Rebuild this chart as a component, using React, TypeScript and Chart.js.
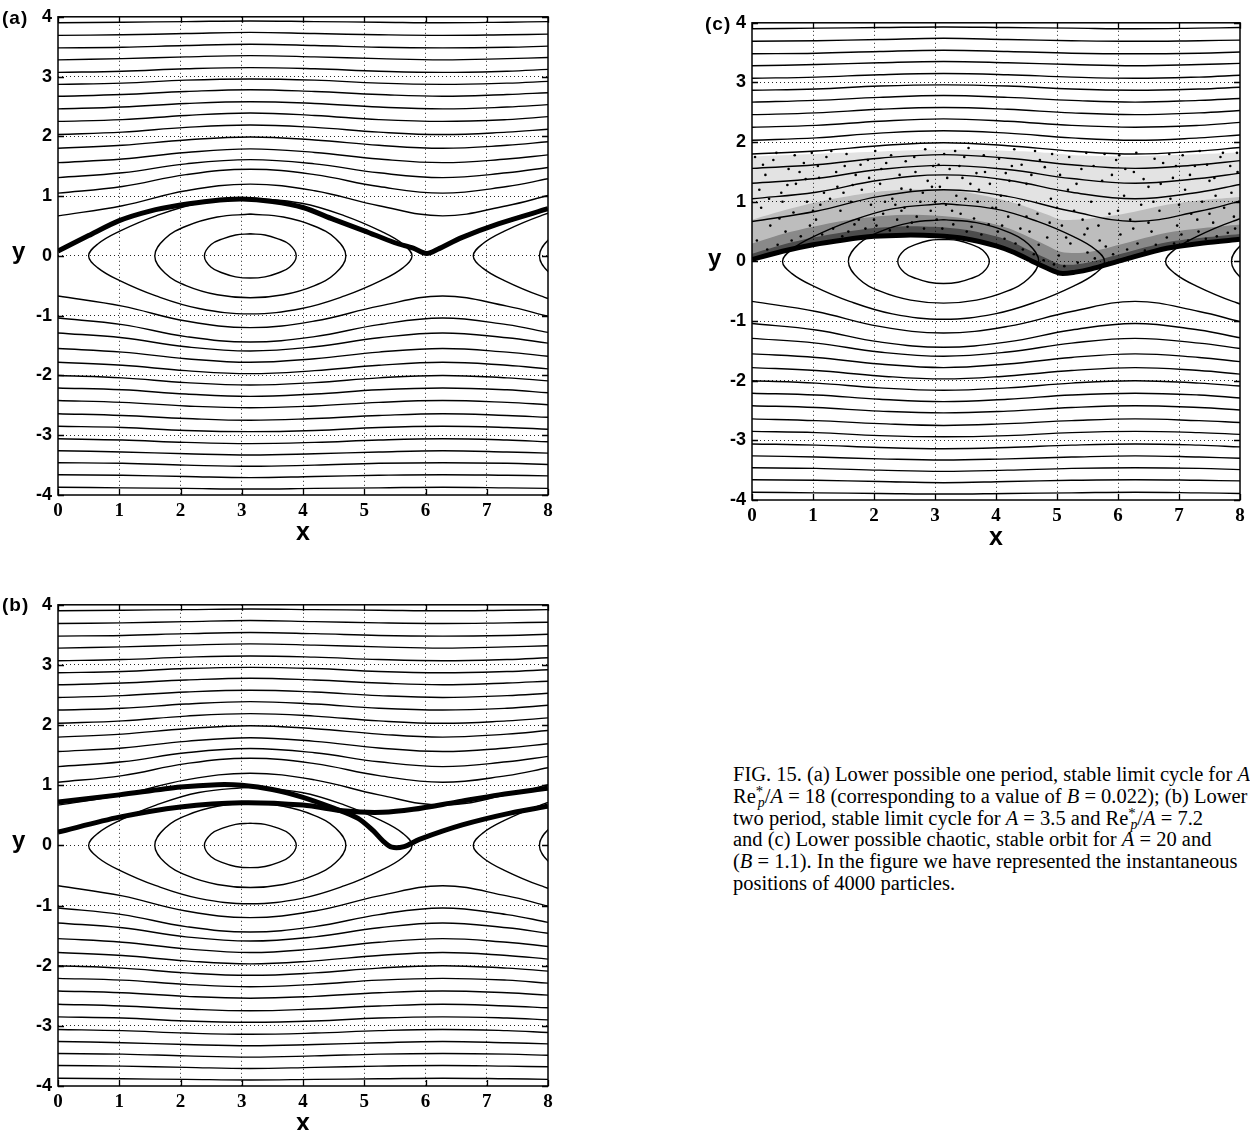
import React, { useEffect, useRef } from "react";
import { Chart, registerables } from "chart.js";

Chart.register(...registerables);

// ---------------- data ----------------
const X_TICKS = [0, 1, 2, 3, 4, 5, 6, 7, 8];
const Y_TICKS = [-4, -3, -2, -1, 0, 1, 2, 3, 4];

// sample abscissae shared by the open streamlines
const STREAM_X = [0, 1.05, 2.09, 3.14, 4.19, 5.24, 6.28, 7.33, 8];

const STREAMS_UPPER = [
  [0.67, 0.84, 1.09, 1.2, 1.09, 0.84, 0.67, 0.84, 1.01],
  [1.05, 1.16, 1.36, 1.45, 1.36, 1.16, 1.05, 1.16, 1.29],
  [1.31, 1.39, 1.54, 1.61, 1.54, 1.39, 1.31, 1.39, 1.48],
  [1.56, 1.62, 1.73, 1.79, 1.73, 1.62, 1.56, 1.62, 1.69],
  [1.8, 1.85, 1.94, 1.99, 1.94, 1.85, 1.8, 1.85, 1.91],
  [2.03, 2.07, 2.15, 2.19, 2.15, 2.07, 2.03, 2.07, 2.12],
  [2.25, 2.28, 2.35, 2.39, 2.35, 2.28, 2.25, 2.28, 2.33],
  [2.46, 2.49, 2.55, 2.58, 2.55, 2.49, 2.46, 2.49, 2.53],
  [2.67, 2.7, 2.75, 2.78, 2.75, 2.7, 2.67, 2.7, 2.73],
  [2.87, 2.89, 2.94, 2.96, 2.94, 2.89, 2.87, 2.89, 2.92],
  [3.07, 3.09, 3.13, 3.15, 3.13, 3.09, 3.07, 3.09, 3.12],
  [3.28, 3.3, 3.33, 3.35, 3.33, 3.3, 3.28, 3.3, 3.32],
  [3.48, 3.49, 3.52, 3.54, 3.52, 3.49, 3.48, 3.49, 3.51],
  [3.69, 3.7, 3.72, 3.74, 3.72, 3.7, 3.69, 3.7, 3.71],
  [3.9, 3.91, 3.92, 3.93, 3.92, 3.91, 3.9, 3.91, 3.92],
];

const STREAMS_LOWER = [
  [-0.67, -0.84, -1.09, -1.2, -1.09, -0.84, -0.67, -0.84, -1.01],
  [-1.04, -1.15, -1.35, -1.44, -1.35, -1.15, -1.04, -1.15, -1.28],
  [-1.29, -1.37, -1.52, -1.59, -1.52, -1.37, -1.29, -1.37, -1.46],
  [-1.55, -1.61, -1.72, -1.78, -1.72, -1.61, -1.55, -1.61, -1.68],
  [-1.78, -1.83, -1.92, -1.97, -1.92, -1.83, -1.78, -1.83, -1.89],
  [-2.0, -2.04, -2.12, -2.16, -2.12, -2.04, -2.0, -2.04, -2.09],
  [-2.21, -2.24, -2.31, -2.35, -2.31, -2.24, -2.21, -2.24, -2.29],
  [-2.42, -2.45, -2.51, -2.54, -2.51, -2.45, -2.42, -2.45, -2.49],
  [-2.64, -2.67, -2.72, -2.75, -2.72, -2.67, -2.64, -2.67, -2.7],
  [-2.85, -2.87, -2.92, -2.94, -2.92, -2.87, -2.85, -2.87, -2.9],
  [-3.06, -3.08, -3.12, -3.14, -3.12, -3.08, -3.06, -3.08, -3.11],
  [-3.26, -3.28, -3.31, -3.33, -3.31, -3.28, -3.26, -3.28, -3.3],
  [-3.46, -3.47, -3.5, -3.52, -3.5, -3.47, -3.46, -3.47, -3.49],
  [-3.66, -3.67, -3.69, -3.71, -3.69, -3.67, -3.66, -3.67, -3.68],
  [-3.87, -3.88, -3.89, -3.9, -3.89, -3.88, -3.87, -3.88, -3.89],
];

// closed "cat's eye" streamlines around (pi, 0)
const EYE_INNER_X = [3.14, 3.38, 3.58, 3.78, 3.89, 3.78, 3.58, 3.38, 3.14, 2.9, 2.7, 2.5, 2.39, 2.5, 2.7, 2.9, 3.14];
const EYE_INNER_Y = [0.37, 0.35, 0.29, 0.19, 0, -0.19, -0.29, -0.35, -0.37, -0.35, -0.29, -0.19, 0, 0.19, 0.29, 0.35, 0.37];
const EYE_MIDDLE_X = [3.14, 3.68, 4.18, 4.53, 4.7, 4.53, 4.18, 3.68, 3.14, 2.6, 2.1, 1.75, 1.58, 1.75, 2.1, 2.6, 3.14];
const EYE_MIDDLE_Y = [0.7, 0.65, 0.5, 0.29, 0, -0.29, -0.5, -0.65, -0.7, -0.65, -0.5, -0.29, 0, 0.29, 0.5, 0.65, 0.7];
const EYE_OUTER_X = [3.14, 3.98, 4.68, 5.28, 5.63, 5.78, 5.63, 5.28, 4.68, 3.98, 3.14, 2.3, 1.6, 1.0, 0.65, 0.5, 0.65, 1.0, 1.6, 2.3, 3.14];
const EYE_OUTER_Y = [0.97, 0.88, 0.67, 0.41, 0.2, 0, -0.2, -0.41, -0.67, -0.88, -0.97, -0.88, -0.67, -0.41, -0.2, 0, 0.2, 0.41, 0.67, 0.88, 0.97];
// eyes of the next cell, cut by the right edge
const NEXT_OUTER_X = [9.42, 8.58, 7.88, 7.28, 6.93, 6.78, 6.93, 7.28, 7.88, 8.58, 9.42];
const NEXT_OUTER_Y = [0.97, 0.88, 0.67, 0.41, 0.2, 0, -0.2, -0.41, -0.67, -0.88, -0.97];
const NEXT_MIDDLE_X = [9.42, 8.88, 8.38, 8.03, 7.86, 8.03, 8.38, 8.88, 9.42];
const NEXT_MIDDLE_Y = [0.7, 0.65, 0.5, 0.29, 0, -0.29, -0.5, -0.65, -0.7];

// (a) one-period limit cycle
const ORBIT_A_X = [0, 0.5, 1.0, 1.5, 2.0, 2.5, 3.0, 3.5, 4.0, 4.5, 5.0, 5.5, 5.8, 6.02, 6.2, 6.6, 7.2, 8.0];
const ORBIT_A_Y = [0.08, 0.34, 0.59, 0.75, 0.85, 0.92, 0.95, 0.91, 0.81, 0.61, 0.42, 0.22, 0.13, 0.04, 0.11, 0.31, 0.54, 0.79];

// (b) two-period limit cycle (two branches)
const ORBIT_B1_X = [0, 1, 2, 2.6, 3.0, 3.5, 4.0, 4.5, 4.9, 5.15, 5.3, 5.45, 5.65, 5.9, 6.6, 7.4, 8.0];
const ORBIT_B1_Y = [0.72, 0.84, 0.97, 1.01, 1.0, 0.93, 0.8, 0.62, 0.45, 0.24, 0.08, -0.03, -0.02, 0.1, 0.34, 0.54, 0.65];
const ORBIT_B2_X = [0, 1, 2, 3, 4, 4.7, 5.3, 5.8, 6.5, 7.2, 8];
const ORBIT_B2_Y = [0.22, 0.47, 0.64, 0.71, 0.67, 0.57, 0.55, 0.6, 0.72, 0.84, 0.95];

// (c) particle cloud: lower edge and successive density layers up to the top of the cloud
const CLOUD_X = [0, 0.5, 1, 1.5, 2, 2.5, 3, 3.5, 4, 4.3, 4.6, 4.85, 5.06, 5.3, 5.55, 6.1, 6.8, 7.4, 8];
const CLOUD_EDGE = [0.03, 0.17, 0.28, 0.36, 0.42, 0.44, 0.43, 0.38, 0.26, 0.15, 0.0, -0.12, -0.2, -0.18, -0.13, 0.03, 0.22, 0.31, 0.37];
const CLOUD_CORE = [0.13, 0.28, 0.4, 0.49, 0.56, 0.59, 0.58, 0.53, 0.42, 0.31, 0.16, 0.04, -0.05, -0.05, -0.01, 0.14, 0.32, 0.4, 0.46];
const CLOUD_DENSE = [0.3, 0.46, 0.58, 0.68, 0.75, 0.78, 0.77, 0.72, 0.62, 0.52, 0.38, 0.26, 0.16, 0.14, 0.16, 0.3, 0.48, 0.56, 0.62];
const CLOUD_MID = [0.7, 0.85, 0.98, 1.08, 1.16, 1.2, 1.2, 1.16, 1.06, 0.98, 0.88, 0.78, 0.7, 0.7, 0.72, 0.8, 0.95, 1.03, 1.08];
const CLOUD_TOP = [1.76, 1.78, 1.8, 1.82, 1.84, 1.86, 1.87, 1.87, 1.86, 1.85, 1.84, 1.82, 1.8, 1.78, 1.77, 1.76, 1.78, 1.8, 1.83];

// individual particles (a sample of the 4000 shown)
const PARTICLES: number[][] = [
  [0.08, 0.35], [0.15, 0.9], [0.22, 1.45], [0.3, 0.6], [0.35, 1.7], [0.42, 0.28], [0.48, 1.15], [0.55, 0.5], [0.6, 1.55], [0.68, 0.82],
  [0.72, 1.3], [0.8, 0.42], [0.85, 1.65], [0.9, 1.0], [0.95, 0.6], [0.12, 1.2], [0.5, 1.0], [0.78, 1.5], [0.25, 0.2], [0.65, 0.35],
  [1.05, 0.7], [1.1, 1.4], [1.15, 0.45], [1.22, 1.75], [1.28, 1.05], [1.33, 0.55], [1.4, 1.25], [1.45, 0.85], [1.52, 1.6], [1.58, 0.5],
  [1.62, 1.0], [1.7, 1.45], [1.75, 0.7], [1.8, 1.2], [1.86, 0.55], [1.9, 1.7], [1.95, 0.95], [1.12, 0.95], [1.48, 0.42], [1.68, 0.62],
  [2.04, 0.6], [2.1, 1.3], [2.15, 0.8], [2.2, 1.65], [2.26, 0.52], [2.3, 1.05], [2.38, 0.7], [2.42, 1.45], [2.5, 0.9], [2.55, 0.58],
  [2.6, 1.2], [2.66, 1.75], [2.7, 0.75], [2.76, 1.0], [2.82, 0.55], [2.88, 1.35], [2.93, 0.85], [2.97, 1.6], [2.35, 0.95], [2.62, 0.65],
  [2.8, 1.15], [2.18, 1.0], [3.03, 0.7], [3.08, 1.25], [3.12, 0.55], [3.18, 0.95], [3.24, 1.55], [3.3, 0.62], [3.35, 1.1], [3.42, 0.8],
  [3.48, 1.75], [3.52, 0.5], [3.58, 1.3], [3.64, 0.72], [3.7, 1.0], [3.76, 0.45], [3.82, 1.5], [3.88, 0.62], [3.94, 0.9], [3.15, 1.8],
  [3.45, 1.4], [3.72, 1.2], [3.6, 0.58], [3.28, 0.85], [4.03, 0.5], [4.08, 1.1], [4.14, 0.38], [4.2, 0.75], [4.26, 1.6], [4.32, 0.3],
  [4.38, 0.95], [4.44, 0.2], [4.5, 1.3], [4.55, 0.5], [4.62, 0.12], [4.68, 0.8], [4.72, 1.7], [4.78, 0.02], [4.84, 0.4], [4.9, 1.05],
  [4.95, -0.05], [4.1, 0.6], [4.4, 0.55], [4.7, 0.28], [4.88, 0.65], [4.22, 1.35], [5.03, 0.1], [5.08, 0.6], [5.12, -0.08], [5.18, 1.2],
  [5.22, 0.3], [5.28, 0.85], [5.34, -0.02], [5.4, 1.55], [5.45, 0.45], [5.5, 0.15], [5.56, 1.0], [5.62, 0.05], [5.68, 0.6], [5.74, 1.35],
  [5.8, 0.25], [5.86, 0.8], [5.92, 0.12], [5.97, 1.7], [5.15, 0.4], [5.42, 0.7], [5.7, 0.35], [6.04, 0.45], [6.1, 1.1], [6.15, 0.2],
  [6.2, 0.7], [6.26, 1.5], [6.32, 0.3], [6.38, 0.95], [6.44, 0.18], [6.5, 1.25], [6.55, 0.5], [6.62, 0.28], [6.68, 0.85], [6.74, 1.65],
  [6.8, 0.4], [6.86, 1.05], [6.92, 0.3], [6.97, 0.6], [6.25, 0.55], [6.58, 1.0], [6.9, 1.4], [7.04, 0.45], [7.1, 1.2], [7.15, 0.35],
  [7.2, 0.8], [7.26, 1.6], [7.32, 0.5], [7.38, 1.0], [7.44, 0.38], [7.5, 1.35], [7.56, 0.65], [7.62, 0.42], [7.68, 1.75], [7.74, 0.9],
  [7.8, 0.48], [7.86, 1.15], [7.92, 0.55], [7.96, 1.5], [7.3, 0.7], [7.6, 1.1], [7.9, 0.75],
  [0.05, 1.75], [0.18, 1.62], [0.28, 1.05], [0.4, 1.82], [0.58, 1.28], [0.7, 1.78], [0.88, 1.38], [0.98, 1.82], [1.08, 1.6], [1.18, 1.15],
  [1.3, 1.85], [1.38, 1.5], [1.55, 1.8], [1.65, 1.28], [1.78, 1.62], [1.92, 1.4], [2.02, 1.85], [2.12, 1.55], [2.28, 1.78], [2.45, 1.22],
  [2.52, 1.68], [2.68, 1.5], [2.84, 1.88], [2.95, 1.25], [3.06, 1.62], [3.2, 1.4], [3.33, 1.85], [3.4, 1.6], [3.55, 1.9], [3.68, 1.48],
  [3.8, 1.78], [3.9, 1.3], [4.05, 1.72], [4.16, 1.48], [4.3, 1.88], [4.42, 1.62], [4.58, 1.45], [4.64, 1.85], [4.8, 1.58], [4.92, 1.8],
  [5.05, 1.45], [5.2, 1.75], [5.32, 1.3], [5.48, 1.82], [5.6, 1.6], [5.78, 1.8], [5.9, 1.45], [6.02, 1.78], [6.12, 1.55], [6.3, 1.82],
  [6.42, 1.38], [6.6, 1.72], [6.7, 1.3], [6.84, 1.8], [6.95, 1.6], [7.06, 1.78], [7.18, 1.45], [7.34, 1.85], [7.46, 1.62], [7.58, 1.4],
  [7.72, 1.82], [7.84, 1.6], [7.95, 1.82], [0.45, 0.72], [1.0, 0.85], [1.5, 1.15], [2.0, 0.7], [2.45, 0.85], [3.0, 1.0], [3.5, 1.05],
  [4.0, 0.9], [4.5, 0.75], [5.0, 0.9], [5.5, 0.55], [6.0, 0.85], [6.5, 0.65], [7.0, 0.95], [7.5, 0.8], [7.98, 1.0],
];

const CAPTION_FONT_PX = 20.5;
const CAPTION_LINE_PX = 21.8;

// ---------------- helpers ----------------
const SANS = "'Liberation Sans', Arial, sans-serif";
const SERIF = "'Liberation Serif', 'Times New Roman', serif";

const toPoints = (xs: number[], ys: number[]) => xs.map((x, i) => ({ x, y: ys[i] }));

function lineSet(xs: number[], ys: number[], width: number, order: number, tension = 0.4): any {
  return {
    data: toPoints(xs, ys),
    borderColor: "#000",
    borderWidth: width,
    pointRadius: 0,
    tension,
    fill: false,
    clip: 0,
    order,
  };
}

function buildDatasets(kind: string) {
  const ds: any[] = [];
  if (kind === "c") {
    const base = lineSet(CLOUD_X, CLOUD_EDGE, 1, 100, 0.3);
    base.borderColor = "rgba(0,0,0,0)";
    ds.push(base);
    const layers: [number[], string][] = [
      [CLOUD_TOP, "rgba(0,0,0,0.11)"],
      [CLOUD_MID, "rgba(0,0,0,0.17)"],
      [CLOUD_DENSE, "rgba(0,0,0,0.28)"],
      [CLOUD_CORE, "rgba(0,0,0,0.45)"],
    ];
    layers.forEach(([ys, col], i) => {
      const l = lineSet(CLOUD_X, ys, 1, 99 - i, 0.3);
      l.borderColor = "rgba(0,0,0,0)";
      l.fill = { target: 0 };
      l.backgroundColor = col;
      ds.push(l);
    });
  }
  STREAMS_UPPER.forEach((ys) => ds.push(lineSet(STREAM_X, ys, 1.4, 50)));
  STREAMS_LOWER.forEach((ys) => ds.push(lineSet(STREAM_X, ys, 1.4, 50)));
  ds.push(lineSet(EYE_INNER_X, EYE_INNER_Y, 1.4, 50));
  ds.push(lineSet(EYE_MIDDLE_X, EYE_MIDDLE_Y, 1.4, 50));
  ds.push(lineSet(EYE_OUTER_X, EYE_OUTER_Y, 1.4, 50));
  ds.push(lineSet(NEXT_OUTER_X, NEXT_OUTER_Y, 1.4, 50));
  ds.push(lineSet(NEXT_MIDDLE_X, NEXT_MIDDLE_Y, 1.4, 50));
  if (kind === "a") {
    ds.push(lineSet(ORBIT_A_X, ORBIT_A_Y, 5, 10, 0.3));
  }
  if (kind === "b") {
    ds.push(lineSet(ORBIT_B1_X, ORBIT_B1_Y, 5, 10, 0.3));
    ds.push(lineSet(ORBIT_B2_X, ORBIT_B2_Y, 5, 10, 0.3));
  }
  if (kind === "c") {
    ds.push({
      data: PARTICLES.map(([x, y]) => ({ x, y })),
      showLine: false,
      pointRadius: 1.3,
      pointBorderWidth: 0,
      pointBackgroundColor: "#000",
      borderColor: "#000",
      clip: 0,
      order: 30,
    });
    ds.push(lineSet(CLOUD_X, CLOUD_EDGE, 5, 20, 0.3));
  }
  return ds;
}

const framePlugin = {
  id: "frameTicks",
  afterDatasetsDraw(chart: any) {
    const { ctx, chartArea } = chart;
    const { left, right, top, bottom } = chartArea;
    const xs = chart.scales.x;
    const ys = chart.scales.y;
    ctx.save();
    ctx.strokeStyle = "#000";
    ctx.lineWidth = 1.5;
    ctx.strokeRect(left, top, right - left, bottom - top);
    ctx.lineWidth = 1.3;
    ctx.beginPath();
    X_TICKS.forEach((v) => {
      const p = Math.round(xs.getPixelForValue(v)) + 0.5;
      ctx.moveTo(p, bottom);
      ctx.lineTo(p, bottom - 6);
      ctx.moveTo(p, top);
      ctx.lineTo(p, top + 6);
    });
    Y_TICKS.forEach((v) => {
      const p = Math.round(ys.getPixelForValue(v)) + 0.5;
      ctx.moveTo(left, p);
      ctx.lineTo(left + 6, p);
      ctx.moveTo(right, p);
      ctx.lineTo(right - 6, p);
    });
    ctx.stroke();
    ctx.restore();
  },
};

function gridColor(min: number, max: number) {
  return (c: any) => {
    const v = c.tick ? c.tick.value : null;
    return v === min || v === max ? "rgba(0,0,0,0)" : "rgba(0,0,0,0.85)";
  };
}

type PanelProps = {
  kind: string;
  left: number;
  top: number;
  width: number;
  height: number;
  xAxisH: number;
};

function Panel({ kind, left, top, width, height, xAxisH }: PanelProps) {
  const ref = useRef<HTMLCanvasElement | null>(null);
  useEffect(() => {
    if (!ref.current) return;
    const chart = new Chart(ref.current, {
      type: "line",
      data: { datasets: buildDatasets(kind) },
      options: {
        responsive: false,
        maintainAspectRatio: false,
        animation: false,
        events: [],
        layout: { padding: { left: 0, top: 16, right: 12, bottom: 0 } },
        plugins: { legend: { display: false }, tooltip: { enabled: false } },
        scales: {
          x: {
            type: "linear",
            min: 0,
            max: 8,
            afterFit: (s: any) => {
              s.height = xAxisH;
            },
            ticks: {
              stepSize: 1,
              padding: 5,
              color: "#000",
              font: { family: SERIF, size: 19, weight: "bold" },
            },
            grid: { color: gridColor(0, 8), lineWidth: 1, drawTicks: false },
            border: { display: false, dash: [1, 3] },
            title: {
              display: true,
              text: "x",
              color: "#000",
              font: { family: SANS, size: 25, weight: "bold" },
              padding: { top: 0, bottom: 4 },
            },
          },
          y: {
            type: "linear",
            min: -4,
            max: 4,
            afterFit: (s: any) => {
              s.width = 58;
            },
            ticks: {
              stepSize: 1,
              padding: 6,
              color: "#000",
              font: { family: SANS, size: 18, weight: "bold" },
            },
            grid: { color: gridColor(-4, 4), lineWidth: 1, drawTicks: false },
            border: { display: false, dash: [1, 3] },
          },
        },
      } as any,
      plugins: [framePlugin],
    });
    return () => chart.destroy();
  }, [kind, xAxisH]);
  return (
    <canvas
      ref={ref}
      width={width}
      height={height}
      style={{ position: "absolute", left, top, width, height }}
    />
  );
}

const labelStyle = (left: number, top: number, size: number, spacing = 0): React.CSSProperties => ({
  position: "absolute",
  left,
  top,
  fontFamily: SANS,
  fontWeight: "bold",
  fontSize: size,
  lineHeight: `${size + 2}px`,
  letterSpacing: spacing,
  color: "#000",
  whiteSpace: "nowrap",
});

// Re with a superscript star and subscript p, positioned without changing the line box
const Re = () => (
  <span>
    Re
    <span style={{ position: "relative", top: "-0.45em", fontSize: "0.72em", lineHeight: 0 }}>*</span>
    <span
      style={{
        position: "relative",
        top: "0.3em",
        marginLeft: "-0.38em",
        fontSize: "0.68em",
        fontStyle: "italic",
        lineHeight: 0,
      }}
    >
      p
    </span>
  </span>
);

const I = ({ children }: { children: React.ReactNode }) => <i>{children}</i>;

export default function App() {
  const capTop = 764;
  const capLeft = 733;
  const capLine = (i: number): React.CSSProperties => ({
    position: "absolute",
    left: capLeft,
    top: capTop + i * CAPTION_LINE_PX,
    height: CAPTION_LINE_PX,
    fontFamily: SERIF,
    fontSize: CAPTION_FONT_PX,
    lineHeight: `${CAPTION_LINE_PX}px`,
    whiteSpace: "nowrap",
    color: "#000",
  });
  return (
    <div
      style={{
        position: "fixed",
        left: 0,
        top: 0,
        width: 1250,
        height: 1130,
        overflow: "hidden",
        background: "#fff",
      }}
    >
      <Panel kind="a" left={0} top={0} width={560} height={552} xAxisH={57} />
      <Panel kind="b" left={0} top={588} width={560} height={555} xAxisH={57} />
      <Panel kind="c" left={694} top={6} width={558} height={551} xAxisH={57} />

      <div style={labelStyle(2, 7, 19, 1)}>(a)</div>
      <div style={labelStyle(2, 594, 19, 1)}>(b)</div>
      <div style={labelStyle(705, 13, 19, 1)}>(c)</div>
      <div style={labelStyle(12, 238, 24)}>y</div>
      <div style={labelStyle(12, 827, 24)}>y</div>
      <div style={labelStyle(708, 245, 24)}>y</div>

      <div style={capLine(0)}>
        FIG. 15. (a) Lower possible one period, stable limit cycle for <I>A</I>
      </div>
      <div style={capLine(1)}>
        <Re />/<I>A</I> = 18 (corresponding to a value of <I>B</I> = 0.022); (b) Lower
      </div>
      <div style={capLine(2)}>
        two period, stable limit cycle for <I>A</I> = 3.5 and <Re />/<I>A</I> = 7.2
      </div>
      <div style={capLine(3)}>
        and (c) Lower possible chaotic, stable orbit for <I>A</I> = 20 and
      </div>
      <div style={capLine(4)}>
        (<I>B</I> = 1.1). In the figure we have represented the instantaneous
      </div>
      <div style={capLine(5)}>positions of 4000 particles.</div>
    </div>
  );
}
